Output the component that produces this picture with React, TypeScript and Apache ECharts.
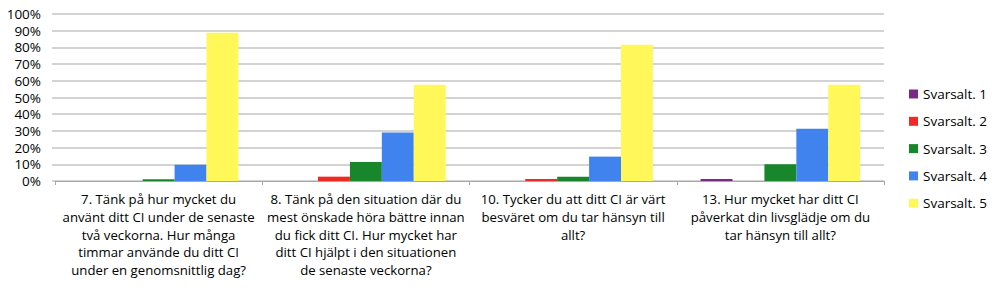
import React, { useEffect, useRef } from "react";
import * as echarts from "echarts";

const categories = [
  "7. Tänk på hur mycket du\nanvänt ditt CI under de senaste\ntvå veckorna. Hur många\ntimmar använde du ditt CI\nunder en genomsnittlig dag?",
  "8. Tänk på den situation där du\nmest önskade höra bättre innan\ndu fick ditt CI. Hur mycket har\nditt CI hjälpt i den situationen\nde senaste veckorna?",
  "10. Tycker du att ditt CI är värt\nbesväret om du tar hänsyn till\nallt?",
  "13. Hur mycket har ditt CI\npåverkat din livsglädje om du\ntar hänsyn till allt?",
];
const seriesNames = ["Svarsalt. 1", "Svarsalt. 2", "Svarsalt. 3", "Svarsalt. 4", "Svarsalt. 5"];
const svar1 = [0, 0, 0, 1.2];
const svar2 = [0, 2.6, 1.2, 0];
const svar3 = [1, 11.4, 2.6, 10];
const svar4 = [9.8, 29, 14.6, 31.3];
const svar5 = [88.8, 57.7, 81.6, 57.7];
const colors = ["#7a2a86", "#ee2a24", "#18872b", "#4183ee", "#fff858"];
const yTicks = [0, 10, 20, 30, 40, 50, 60, 70, 80, 90, 100];

export default function App() {
  const ref = useRef<HTMLDivElement>(null);
  useEffect(() => {
    if (!ref.current) return;
    const chart = echarts.init(ref.current, undefined, { renderer: "svg" });
    const data = [svar1, svar2, svar3, svar4, svar5];
    const font = "'Open Sans', 'Noto Sans', sans-serif";
    chart.setOption({
      animation: false,
      backgroundColor: "#ffffff",
      color: colors,
      grid: { left: 55, right: 108, top: 14, bottom: 109, containLabel: false },
      legend: {
        orient: "vertical",
        left: 904,
        top: 82,
        itemWidth: 9,
        itemHeight: 9,
        itemGap: 13.3,
        icon: "rect",
        textStyle: { fontFamily: font, fontSize: 13.5, color: "#000" },
        data: seriesNames,
      },
      xAxis: {
        type: "category",
        data: categories,
        axisLine: { lineStyle: { color: "#a8a8a8", width: 1 } },
        axisTick: { show: true, length: 4, alignWithLabel: false, lineStyle: { color: "#a8a8a8" } },
        axisLabel: {
          interval: 0,
          margin: 9,
          fontFamily: font,
          fontSize: 13.2,
          lineHeight: 17.8,
          color: "#000",
          align: "center",
        },
      },
      yAxis: {
        type: "value",
        min: 0,
        max: 100,
        interval: 10,
        axisLine: { show: false },
        axisTick: { show: true, length: 3, lineStyle: { color: "#c4c4c4", width: 1.5 } },
        splitLine: { lineStyle: { color: "#c4c4c4", width: 1.5 } },
        axisLabel: {
          margin: 14,
          fontFamily: font,
          fontSize: 13.5,
          color: "#000",
          formatter: (v: number) => (yTicks.includes(v) ? v + "%" : ""),
        },
      },
      series: seriesNames.map((name, i) => ({
        name,
        type: "bar",
        data: data[i],
        barGap: "0%",
        barCategoryGap: "23%",
        itemStyle: { color: colors[i] },
      })),
    });
    return () => chart.dispose();
  }, []);
  return (
    <div
      ref={ref}
      style={{ position: "fixed", left: 0, top: 0, width: 992, height: 290, background: "#fff" }}
    />
  );
}
